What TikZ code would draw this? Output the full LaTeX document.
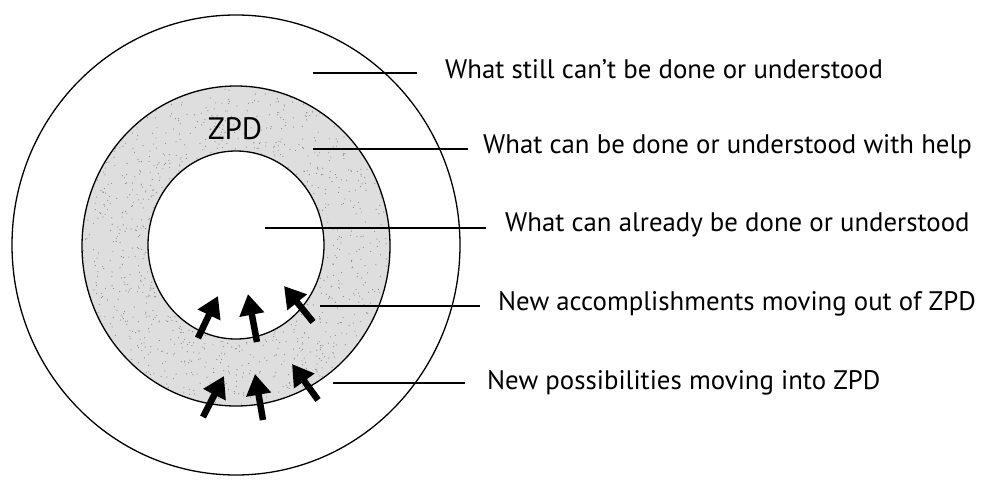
\documentclass[tikz,border=0pt]{standalone}
\usepackage{fontspec}
\setmainfont{PT Sans}
\usetikzlibrary{arrows.meta}
\definecolor{Zone}{gray}{0.87}
\definecolor{Speck}{gray}{0.55}
\tikzset{
  ring/.style={draw=black,line width=1.3pt},
  leader/.style={draw=black,line width=1.4pt},
  push/.style={line width=6.5pt,-{Triangle[length=21pt,width=24pt]}},
  caption/.style={anchor=base west,inner sep=0pt,font=\fontsize{26.8}{30}\selectfont}
}
\begin{document}
\begin{tikzpicture}[x=1pt,y=-1pt]
\path[use as bounding box] (0,0) rectangle (987,481);
% the three zones
\fill[Zone,even odd rule] (236,246) ellipse [x radius=154,y radius=160]
  (236,245) ellipse [x radius=88,y radius=94];
\pgfmathsetseed{7}
\foreach \k in {1,...,900}{
  \pgfmathsetmacro{\ang}{rnd*360}
  \pgfmathsetmacro{\frac}{0.02+0.96*rnd}
  \fill[Speck] ({236+(88+66*\frac)*cos(\ang)},{245.5+(94+66*\frac)*sin(\ang)}) circle[radius=0.6];
}
\draw[ring] (236,245) ellipse [x radius=224,y radius=230];
\draw[ring] (236,246) ellipse [x radius=154,y radius=160];
\draw[ring] (236,245) ellipse [x radius=88,y radius=94];
\node[inner sep=0pt,font=\fontsize{31}{34}\selectfont] (zpd) at (235,129) {ZPD};

% captions
\node[caption] (t1) at (445,79) {What still can't be done or understood};
\node[caption] (t2) at (483,154) {What can be done or understood with help};
\node[caption] (t3) at (505,231) {What can already be done or understood};
\node[caption] (t4) at (498,310) {New accomplishments moving out of ZPD};
\node[caption] (t5) at (487,389) {New possibilities moving into ZPD};

% leader lines
\coordinate (p1) at (313,73);  \coordinate (e1) at (417,73);
\coordinate (p2) at (313,149); \coordinate (e2) at (468,149);
\coordinate (p3) at (265,228); \coordinate (e3) at (486,228);
\coordinate (p4) at (320,306); \coordinate (e4) at (480,306);
\coordinate (p5) at (333,383); \coordinate (e5) at (465,383);
\foreach \i in {1,...,5}
  \draw[leader] (p\i) -- (e\i);

% arrows out of the ZPD
\draw[push] (198,338) -- (218,296);
\draw[push] (257,342) -- (248,294);
\draw[push] (313,322) -- (284,286);
% arrows into the ZPD
\draw[push] (203,417) -- (224,376);
\draw[push] (263,420) -- (255,374);
\draw[push] (318,400) -- (292,364);
\end{tikzpicture}
\end{document}
